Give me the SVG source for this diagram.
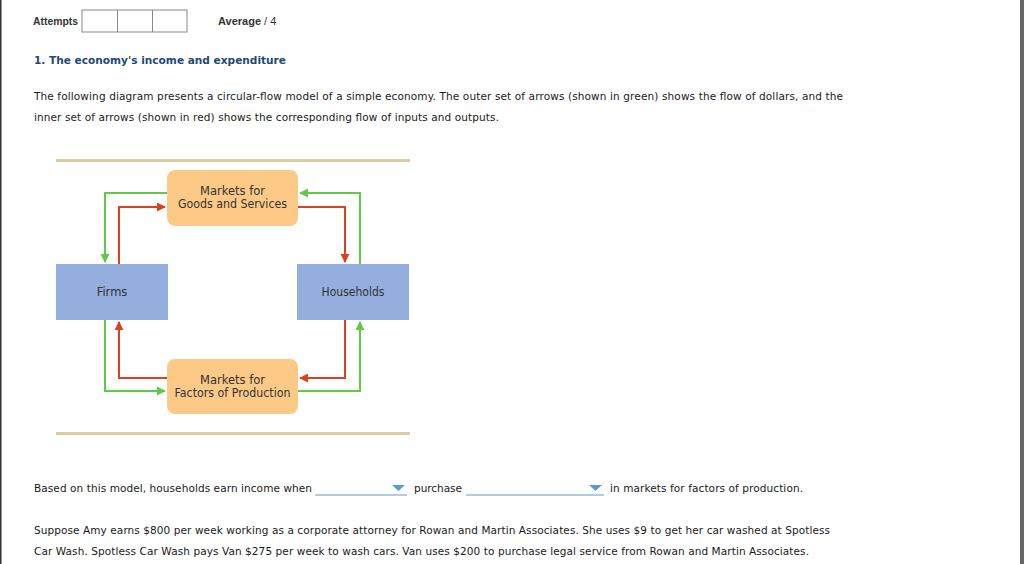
<svg xmlns="http://www.w3.org/2000/svg" width="1024" height="564" viewBox="0 0 1024 564">
<style>
.ui{font-family:"Liberation Sans",Arial,sans-serif;font-size:11px;font-weight:bold;fill:#333}
.body{font-family:"DejaVu Sans",Verdana,sans-serif;font-size:10.5px;fill:#1a1a1a}
.title{font-family:"DejaVu Sans",Verdana,sans-serif;font-size:11px;font-weight:bold;fill:#1d4a77}
.lbl{font-family:"DejaVu Sans",Verdana,sans-serif;font-size:11.5px;fill:#333;text-anchor:middle}
.mkt{fill:#fdc987}
.sec{fill:#94aede}
.g{fill:none;stroke:#5fca48;stroke-width:2}
.r{fill:none;stroke:#d9421f;stroke-width:2}
.dd{stroke:#5b9bd5;stroke-width:1.2}
</style>
<defs>
<marker id="ag" viewBox="0 0 10 10" refX="9" refY="5" markerWidth="4.5" markerHeight="4.5" orient="auto" markerUnits="strokeWidth"><path d="M0,0 L10,5 L0,10 z" fill="#5fca48"/></marker>
<marker id="ar" viewBox="0 0 10 10" refX="9" refY="5" markerWidth="4.5" markerHeight="4.5" orient="auto" markerUnits="strokeWidth"><path d="M0,0 L10,5 L0,10 z" fill="#d9421f"/></marker>
</defs>
<rect width="1024" height="564" fill="#fff"/>
<rect x="0" y="0" width="1.5" height="564" fill="#333"/>
<rect x="1020" y="0" width="4" height="564" fill="#666"/>

<text class="ui" x="33" y="25" textLength="45" lengthAdjust="spacingAndGlyphs">Attempts</text>
<rect x="82" y="10" width="105" height="22" fill="#fff" stroke="#888" stroke-width="1"/>
<line x1="117.5" y1="10" x2="117.5" y2="32" stroke="#888"/>
<line x1="152.5" y1="10" x2="152.5" y2="32" stroke="#888"/>
<text class="ui" x="218" y="25">Average <tspan style="font-weight:normal">/ 4</tspan></text>

<text class="title" x="34" y="64" textLength="252" lengthAdjust="spacingAndGlyphs">1. The economy's income and expenditure</text>
<text class="body" x="34" y="100" textLength="809" lengthAdjust="spacing">The following diagram presents a circular-flow model of a simple economy. The outer set of arrows (shown in green) shows the flow of dollars, and the</text>
<text class="body" x="34" y="121" textLength="465" lengthAdjust="spacing">inner set of arrows (shown in red) shows the corresponding flow of inputs and outputs.</text>

<rect x="56" y="159" width="354" height="3" fill="#dacca0"/>
<rect x="56" y="432" width="354" height="3" fill="#dacca0"/>

<g id="connectors">
<polyline class="g" points="167,193 105,193 105,262" marker-end="url(#ag)"/>
<polyline class="r" points="119,264 119,207 165,207" marker-end="url(#ar)"/>
<polyline class="r" points="298,207 345,207 345,262" marker-end="url(#ar)"/>
<polyline class="g" points="360,264 360,193 300,193" marker-end="url(#ag)"/>
<polyline class="g" points="105,320 105,391 165,391" marker-end="url(#ag)"/>
<polyline class="r" points="167,378 119,378 119,322" marker-end="url(#ar)"/>
<polyline class="r" points="345,320 345,378 300,378" marker-end="url(#ar)"/>
<polyline class="g" points="298,391 360,391 360,322" marker-end="url(#ag)"/>
</g>

<g id="goods">
<rect class="mkt" x="167" y="170" width="131" height="56" rx="8"/>
<text class="lbl" x="232.5" y="195">Markets for</text>
<text class="lbl" x="232.5" y="208" textLength="109" lengthAdjust="spacingAndGlyphs">Goods and Services</text>
</g>
<g id="firms">
<rect class="sec" x="56" y="264" width="112" height="56"/>
<text class="lbl" x="112" y="296">Firms</text>
</g>
<g id="households">
<rect class="sec" x="297" y="264" width="112" height="56"/>
<text class="lbl" x="353" y="296" textLength="63" lengthAdjust="spacingAndGlyphs">Households</text>
</g>
<g id="factors">
<rect class="mkt" x="167" y="359" width="131" height="55" rx="8"/>
<text class="lbl" x="232.5" y="384">Markets for</text>
<text class="lbl" x="232.5" y="397" textLength="116" lengthAdjust="spacingAndGlyphs">Factors of Production</text>
</g>

<text class="body" x="34" y="492" textLength="278" lengthAdjust="spacing">Based on this model, households earn income when</text>
<line class="dd" x1="315" y1="495" x2="407" y2="495"/>
<path d="M392,485 L405,485 L398.5,491 z" fill="#5b9bd5"/>
<text class="body" x="414" y="492" textLength="48" lengthAdjust="spacing">purchase</text>
<line class="dd" x1="466" y1="495" x2="604" y2="495"/>
<path d="M589,485 L602,485 L595.5,491 z" fill="#5b9bd5"/>
<text class="body" x="610" y="492" textLength="193" lengthAdjust="spacing">in markets for factors of production.</text>

<text class="body" x="34" y="534" textLength="796" lengthAdjust="spacing">Suppose Amy earns $800 per week working as a corporate attorney for Rowan and Martin Associates. She uses $9 to get her car washed at Spotless</text>
<text class="body" x="34" y="555" textLength="775" lengthAdjust="spacing">Car Wash. Spotless Car Wash pays Van $275 per week to wash cars. Van uses $200 to purchase legal service from Rowan and Martin Associates.</text>
</svg>
